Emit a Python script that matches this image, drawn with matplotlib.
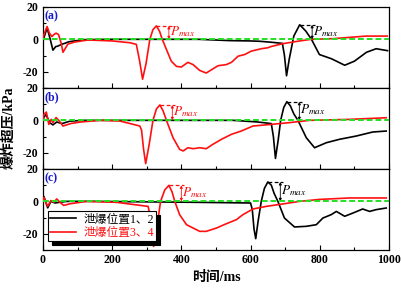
import matplotlib

matplotlib.use("Agg")
import matplotlib.pyplot as plt
from matplotlib.ticker import MultipleLocator

plt.rcParams["font.family"] = ["Liberation Serif", "Noto Sans CJK SC"]
plt.rcParams["mathtext.fontset"] = "stix"
plt.rcParams["axes.unicode_minus"] = False

PANEL_LABELS = ["(a)", "(b)", "(c)"]
LEGEND_LABELS = ["泄爆位置1、2", "泄爆位置3、4"]

# panel (a)
t_a_12 = [0, 3, 12, 20, 29, 37, 43, 55, 63, 75, 91, 120, 200, 300, 450, 540, 600, 626, 660,
          692, 698, 704, 712, 725, 742, 760, 776, 799, 834, 872, 900, 935, 963, 996]
p_a_12 = [0, 1, 7, 1, -6.7, -4.5, -4.2, -3, -2.5, -1.5, -1, -0.2, 0, 0, 0, -0.8, -1, -1.2, -1.8,
          -2.5, -10, -22.5, -12, 2, 9, 5, 0, -9.4, -12, -16, -13.5, -8, -5.8, -7]
t_a_34 = [0, 3, 12, 19, 26, 32, 38, 45, 53, 58, 72, 91, 130, 200, 251, 270, 280, 288, 298, 309,
          318, 328, 337, 345, 357, 371, 386, 400, 419, 434, 453, 472, 487, 506, 530, 545, 564,
          583, 602, 631, 650, 660, 693, 742, 775, 838, 934, 995]
p_a_34 = [0, 3.1, 7.9, 3.8, 1.7, 3, 3.8, 3, -2.5, -8, -3, -1.7, -0.4, -1, -2.1, -3.1, -14, -24.6,
          -15, 0, 6, 8.3, 5, 0, -6.3, -13.5, -16.7, -17.1, -14.2, -15.6, -19.2, -20.8, -18.8,
          -16.3, -15.6, -14.2, -10.4, -9.4, -7.3, -5.8, -5.2, -4.4, -2.7, -1, 0, 0.4, 2, 2]

# panel (b)
t_b_12 = [0, 3, 9, 20, 29, 40, 55, 78, 120, 300, 550, 620, 660, 666, 672, 680, 687, 696, 705,
          715, 725, 737, 761, 785, 819, 857, 905, 953, 992]
p_b_12 = [0, 2, 3.5, -1.5, -2.8, -1, -2, -0.5, 0, 0, 0, -1, -2, -10, -23.5, -12, 0, 8, 11.5,
          9, 4, 0, -10.7, -16.9, -13.8, -11.7, -9.7, -7.2, -6.6]
t_b_34 = [0, 3, 10, 17, 24, 29, 38, 45, 58, 82, 110, 165, 222, 280, 285, 291, 297, 307, 318,
          328, 338, 347, 357, 376, 395, 405, 419, 434, 453, 472, 491, 516, 545, 573, 607, 660,
          713, 771, 886, 992]
p_b_34 = [0, 3.7, 5.1, -2.5, 0.6, -1.4, 1.7, 0.2, -3.5, -1.9, -1, 0, -0.4, -3.5, -6, -18,
          -26.7, -15, 0, 7, 9.5, 6, 0, -10.7, -17.9, -18.9, -16.9, -17.5, -16.9, -17.5, -14.8,
          -11.7, -8.6, -6.6, -3.5, -2.5, -1.4, 0, 0.6, 1.6]

# panel (c)
t_c_12 = [0, 3, 9, 14, 23, 35, 50, 70, 150, 300, 450, 600, 605, 610, 615, 622, 631, 640, 650,
          660, 668, 679, 698, 727, 761, 790, 809, 833, 848, 872, 896, 924, 944, 963, 992]
p_c_12 = [0, 3, -1, -4, 0, -1, -0.5, 0, 0, -0.3, -0.6, -1, -5, -17, -23, -12, 0, 8, 12, 10,
          5, 0, -10.3, -15.8, -15.4, -14.4, -10.3, -8.2, -6.2, -9.2, -7.2, -4.7, -6.2, -5.1, -4.1]
t_c_34 = [0, 3, 9, 14, 23, 32, 40, 49, 60, 78, 107, 126, 213, 304, 309, 314, 320, 330, 340,
          352, 364, 373, 381, 395, 415, 453, 472, 501, 530, 559, 578, 607, 645, 693, 742, 799,
          886, 992]
p_c_34 = [0, 2.5, -1, -3, 0.5, -0.5, 1.5, -0.5, -2.5, -1.5, -0.6, 0, -0.6, -3.1, -8, -20,
          -27.8, -15, 0, 7, 9.9, 6, 0, -8.2, -14.4, -18.5, -18.5, -16.5, -13.8, -11.3, -8.2,
          -4.7, -3.1, -1.6, 0, 1.2, 2.1, 2.1]

SERIES = [
    ((t_a_12, p_a_12), (t_a_34, p_a_34)),
    ((t_b_12, p_b_12), (t_b_34, p_b_34)),
    ((t_c_12, p_c_12), (t_c_34, p_c_34)),
]
COLORS = ["black", "#ff1010"]


def add_pmax(ax, t, p, color):
    i = max(range(len(p)), key=lambda k: p[k])
    tp, pp = t[i], p[i]
    ax.plot([tp, tp + 45], [pp, pp], color=color, lw=0.9, ls=(0, (3, 2)), zorder=4)
    ax.annotate("", xy=(tp + 36, 0), xytext=(tp + 36, pp),
                arrowprops=dict(arrowstyle="<|-|>", color=color, lw=0.6,
                                mutation_scale=4, shrinkA=0, shrinkB=0), zorder=4)
    ax.text(tp + 38, pp * 0.55, "$P_{max}$", color=color, fontsize=9.5,
            ha="left", va="center", zorder=4)


fig, axes = plt.subplots(3, 1, figsize=(4.01, 2.88), dpi=100, sharex=True)
fig.subplots_adjust(left=0.107, right=0.970, top=0.976, bottom=0.132, hspace=0)

for ax, label, pair in zip(axes, PANEL_LABELS, SERIES):
    for (t, p), color, name in zip(pair, COLORS, LEGEND_LABELS):
        ax.plot(t, p, color=color, lw=1.2, label=name, zorder=3)
    ax.axhline(0, color="#22e022", lw=1.4, ls=(0, (3, 1.5)), zorder=5)
    for (t, p), color in zip(pair, COLORS):
        add_pmax(ax, t, p, color)

    ax.set_xlim(0, 1000)
    ax.set_ylim(-30, 20)
    ax.set_yticks([-20, 0, 20])
    ax.yaxis.set_minor_locator(MultipleLocator(10))
    ax.xaxis.set_major_locator(MultipleLocator(200))
    ax.xaxis.set_minor_locator(MultipleLocator(100))
    ax.tick_params(which="both", direction="in", labelsize=8.5, width=0.8, pad=3)
    ax.tick_params(which="major", length=3.5)
    ax.tick_params(which="minor", length=2)
    for lab in ax.get_yticklabels() + ax.get_xticklabels():
        lab.set_fontweight("bold")
    for sp in ax.spines.values():
        sp.set_linewidth(0.9)
    ax.text(0.004, 0.88, label, transform=ax.transAxes, color="#1a1acc",
            fontsize=8.5, fontweight="bold", ha="left", va="center")

leg = axes[2].legend(loc="lower left", bbox_to_anchor=(0.014, 0.11), borderaxespad=0,
                     fontsize=8.5, frameon=True, fancybox=False, framealpha=1,
                     edgecolor="black", labelcolor="linecolor", handlelength=2.2,
                     borderpad=0.2, labelspacing=0.1, handletextpad=0.6,
                     shadow={"ox": 3, "oy": -3, "color": "black", "alpha": 1})
leg.get_frame().set_linewidth(0.8)

fig.text(0.022, 0.555, "爆炸超压/kPa", rotation=90, ha="center", va="center",
         fontsize=10, fontweight="bold")
fig.text(0.539, 0.035, "时间/ms", ha="center", va="center", fontsize=10, fontweight="bold")

fig.savefig("out.png", dpi=100)
